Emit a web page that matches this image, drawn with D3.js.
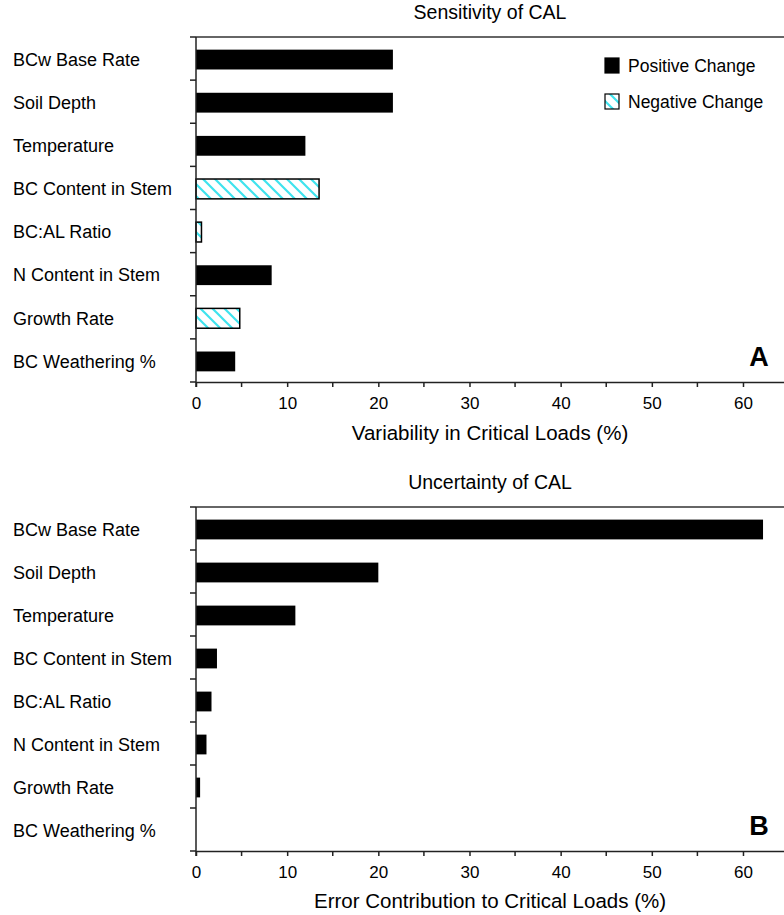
<!DOCTYPE html>
<html>
<head>
<meta charset="utf-8">
<script src="https://cdn.jsdelivr.net/npm/d3@7"></script>
<style>
  html, body { margin: 0; padding: 0; background: #fff; }
  svg { display: block; font-family: "Liberation Sans", Arial, Helvetica, sans-serif; }
</style>
</head>
<body>
<svg id="chart" width="784" height="915"></svg>
<script>
// Model parameters, listed top to bottom
const categories = [
  "BCw Base Rate", "Soil Depth", "Temperature", "BC Content in Stem",
  "BC:AL Ratio", "N Content in Stem", "Growth Rate", "BC Weathering %"
];

// Panel A: variability in critical loads (%) and direction of change
const sensitivity = [21.6, 21.6, 12.0, 13.5, 0.6, 8.3, 4.8, 4.3];
const changeSign  = ["pos", "pos", "pos", "neg", "neg", "pos", "neg", "pos"];

// Panel B: error contribution to critical loads (%)
const uncertainty = [62.2, 20.0, 10.9, 2.3, 1.7, 1.15, 0.45, 0];

const xTicksMajor = [0, 10, 20, 30, 40, 50, 60];
const xTicksMinor = [5, 15, 25, 35, 45, 55];
const xMax = 64.5;

const legendLabels = ["Positive Change", "Negative Change"];

const svg = d3.select("#chart");
const W = 784;
const left = 196, right = W;

// diagonal cyan hatch for negative changes
const defs = svg.append("defs");
const pat = defs.append("pattern")
  .attr("id", "hatch")
  .attr("patternUnits", "userSpaceOnUse")
  .attr("width", 12).attr("height", 12);
pat.append("rect").attr("width", 12).attr("height", 12).attr("fill", "#fff");
pat.append("path")
  .attr("d", "M-3,-3L15,15M-3,9L3,15M9,-3L15,3")
  .attr("stroke", "#3fe3ee").attr("stroke-width", 2.2);

const x = d3.scaleLinear().domain([0, xMax]).range([left, right]);

function panel(cfg) {
  const g = svg.append("g");
  const y = d3.scaleBand().domain(categories).range([cfg.top, cfg.bottom])
    .paddingInner(0.54).paddingOuter(0.27);
  const step = y.step();

  // title
  g.append("text")
    .attr("x", (left + right) / 2).attr("y", cfg.titleY)
    .attr("text-anchor", "middle").attr("font-size", 19.5)
    .text(cfg.title);

  // top frame line
  g.append("line")
    .attr("x1", left).attr("x2", right)
    .attr("y1", cfg.top).attr("y2", cfg.top)
    .attr("stroke", "#333").attr("stroke-width", 1.5);

  // bars
  g.selectAll("rect.bar")
    .data(categories.map((c, i) => ({ c, v: cfg.values[i], s: cfg.signs ? cfg.signs[i] : "pos" })))
    .join("rect")
    .attr("class", "bar")
    .attr("x", x(0))
    .attr("y", d => y(d.c) + 1)
    .attr("width", d => x(d.v) - x(0))
    .attr("height", y.bandwidth())
    .attr("fill", d => d.s === "neg" ? "url(#hatch)" : "#000")
    .attr("stroke", d => d.s === "neg" ? "#000" : "none")
    .attr("stroke-width", 1.5);

  // category labels
  g.selectAll("text.cat")
    .data(categories)
    .join("text")
    .attr("class", "cat")
    .attr("x", 13)
    .attr("y", d => y(d) + y.bandwidth() / 2 + 1)
    .attr("dy", "0.35em")
    .attr("font-size", 18)
    .text(d => d);

  // left axis with ticks at category boundaries
  const bounds = d3.range(categories.length + 1).map(i => cfg.top + i * step);
  g.append("line")
    .attr("x1", left).attr("x2", left)
    .attr("y1", cfg.top).attr("y2", cfg.bottom + 5)
    .attr("stroke", "#222").attr("stroke-width", 1.5);
  g.selectAll("line.ytick")
    .data(bounds)
    .join("line")
    .attr("class", "ytick")
    .attr("x1", left - 6).attr("x2", left)
    .attr("y1", d => d).attr("y2", d => d)
    .attr("stroke", "#222").attr("stroke-width", 1.5);

  // bottom axis
  const ax = g.append("g")
    .attr("transform", `translate(0,${cfg.bottom})`)
    .call(d3.axisBottom(x).tickValues(xTicksMajor).tickSize(5).tickPadding(10).tickSizeOuter(0));
  ax.select(".domain").attr("stroke", "#222").attr("stroke-width", 1.5);
  ax.selectAll(".tick line").attr("stroke", "#222").attr("stroke-width", 1.5);
  ax.selectAll(".tick text").attr("font-size", 17).attr("font-family", "Liberation Sans, Arial, sans-serif").attr("fill", "#000");
  ax.selectAll("line.minor")
    .data(xTicksMinor)
    .join("line")
    .attr("class", "minor")
    .attr("x1", d => x(d)).attr("x2", d => x(d))
    .attr("y1", 0).attr("y2", 5)
    .attr("stroke", "#222").attr("stroke-width", 1.5);

  // axis title
  g.append("text")
    .attr("x", (left + right) / 2).attr("y", cfg.axisTitleY)
    .attr("text-anchor", "middle").attr("font-size", 20.5)
    .text(cfg.axisTitle);

  // panel letter
  g.append("text")
    .attr("x", 759).attr("y", cfg.bottom - 16)
    .attr("text-anchor", "middle")
    .attr("font-size", 27).attr("font-weight", "bold")
    .text(cfg.letter);

  return { g, y };
}

panel({
  title: "Sensitivity of CAL", titleY: 19,
  top: 37, bottom: 382,
  values: sensitivity, signs: changeSign,
  axisTitle: "Variability in Critical Loads (%)", axisTitleY: 440,
  letter: "A"
});

panel({
  title: "Uncertainty of CAL", titleY: 489,
  top: 507, bottom: 851,
  values: uncertainty, signs: null,
  axisTitle: "Error Contribution to Critical Loads (%)", axisTitleY: 908,
  letter: "B"
});

// legend in panel A
const leg = svg.append("g");
const legItems = legendLabels.map((t, i) => ({ t, fill: i === 0 ? "#000" : "url(#hatch)", y: 66 + i * 36 }));
leg.selectAll("rect")
  .data(legItems)
  .join("rect")
  .attr("x", 605).attr("y", d => d.y - 8)
  .attr("width", 14).attr("height", 15)
  .attr("fill", d => d.fill)
  .attr("stroke", "#000").attr("stroke-width", 1.2);
leg.selectAll("text")
  .data(legItems)
  .join("text")
  .attr("x", 628).attr("y", d => d.y)
  .attr("dy", "0.35em")
  .attr("font-size", 17.5)
  .text(d => d.t);
</script>
</body>
</html>
